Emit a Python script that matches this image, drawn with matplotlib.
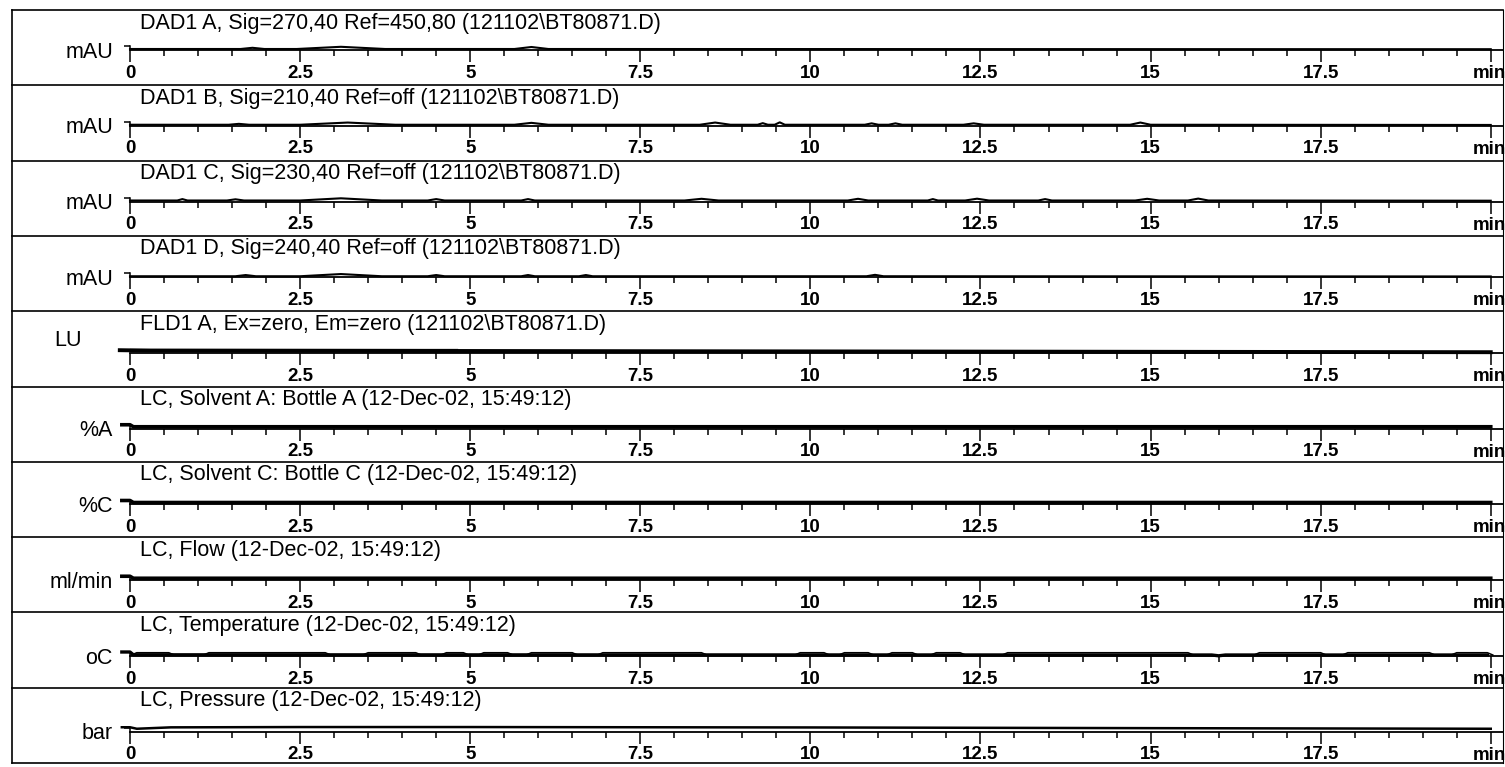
import numpy as np
import matplotlib.pyplot as plt
from matplotlib.ticker import MultipleLocator

plt.rcParams['font.family'] = ['Liberation Sans', 'DejaVu Sans']

W, H = 1505, 767

# ---- chart content -------------------------------------------------------
titles = [
    'DAD1 A, Sig=270,40 Ref=450,80 (121102\\BT80871.D)',
    'DAD1 B, Sig=210,40 Ref=off (121102\\BT80871.D)',
    'DAD1 C, Sig=230,40 Ref=off (121102\\BT80871.D)',
    'DAD1 D, Sig=240,40 Ref=off (121102\\BT80871.D)',
    'FLD1 A, Ex=zero, Em=zero (121102\\BT80871.D)',
    'LC, Solvent A: Bottle A (12-Dec-02, 15:49:12)',
    'LC, Solvent C: Bottle C (12-Dec-02, 15:49:12)',
    'LC, Flow (12-Dec-02, 15:49:12)',
    'LC, Temperature (12-Dec-02, 15:49:12)',
    'LC, Pressure (12-Dec-02, 15:49:12)',
]
units = ['mAU', 'mAU', 'mAU', 'mAU', 'LU', '%A', '%C', 'ml/min', 'oC', 'bar']
major_ticks = [0, 2.5, 5, 7.5, 10, 12.5, 15, 17.5, 20]
tick_labels = ['0', '2.5', '5', '7.5', '10', '12.5', '15', '17.5', '']
x_max = 20.18

# DAD signals: small peaks on a flat baseline (time, width, height)
dad_a_peak_t = [1.8, 3.1, 5.9]
dad_a_peak_w = [0.35, 1.3, 0.5]
dad_a_peak_h = [1.2, 2.2, 2.0]

dad_b_peak_t = [1.6, 3.2, 5.9, 8.6, 9.3, 9.55, 10.9, 11.25, 12.4, 14.85]
dad_b_peak_w = [0.3, 1.4, 0.5, 0.45, 0.15, 0.15, 0.2, 0.2, 0.3, 0.3]
dad_b_peak_h = [0.9, 2.2, 1.9, 2.2, 1.6, 2.4, 1.4, 1.4, 1.4, 2.2]

dad_c_peak_t = [0.77, 1.55, 3.1, 4.5, 5.85, 8.4, 10.7, 11.8, 12.45, 13.45, 14.95, 15.7]
dad_c_peak_w = [0.15, 0.25, 1.2, 0.25, 0.2, 0.5, 0.3, 0.15, 0.35, 0.2, 0.35, 0.3]
dad_c_peak_h = [1.4, 1.2, 2.2, 1.4, 1.4, 1.7, 1.7, 1.4, 1.8, 1.4, 1.7, 1.9]

dad_d_peak_t = [1.7, 3.1, 4.5, 5.85, 6.7, 10.95]
dad_d_peak_w = [0.3, 1.2, 0.25, 0.2, 0.2, 0.25]
dad_d_peak_h = [1.2, 2.2, 1.2, 1.2, 1.2, 1.4]

fld_t = [-0.15, 0.3, 2.5, 5.0, 7.5, 10.0, 15.0, 20.0]
fld_y = [2.8, 2.4, 2.2, 2.0, 1.8, 1.6, 1.2, 0.8]

solvent_a_t = [-0.12, 0.0, 0.05, 20.0]
solvent_a_y = [4.0, 4.0, 2.0, 2.0]
solvent_c_t = [-0.12, 0.0, 0.05, 20.0]
solvent_c_y = [4.0, 4.0, 2.0, 2.0]
flow_t = [-0.12, 0.0, 0.05, 20.0]
flow_y = [4.0, 4.0, 2.0, 2.0]

# temperature: plateaus where the noise band opens up (start, end)
temp_band_start = [0.1, 1.16, 3.5, 4.65, 5.2, 5.9, 6.95, 9.85, 10.5, 11.2, 11.85, 12.9, 16.6, 17.9, 19.5]
temp_band_end = [0.57, 2.87, 4.2, 4.9, 5.55, 6.5, 8.4, 10.2, 10.85, 11.5, 12.2, 15.55, 17.5, 19.1, 19.95]
temp_base_t = [-0.12, 0.0, 0.05, 15.9, 16.0, 16.1, 19.95]
temp_base_y = [4.0, 4.0, 1.2, 1.0, 0.2, 1.0, 1.0]

pressure_t = [-0.12, 0.0, 0.1, 0.6, 2.5, 5.0, 10.0, 15.0, 20.0]
pressure_y = [4.5, 4.5, 3.0, 4.4, 4.7, 4.7, 4.3, 3.6, 3.0]


def peak_trace(times, widths, heights, base=1.0):
    xs, ys = [0.0], [base]
    for c, w, h in zip(times, widths, heights):
        xs += [c - w / 2, c, c + w / 2]
        ys += [base, base + h, base]
    xs.append(20.0)
    ys.append(base * 0.8)
    return xs, ys


fig = plt.figure(figsize=(W / 100, H / 100), dpi=100)

# overlay in pixel coords for frame and text
ax0 = fig.add_axes([0, 0, 1, 1])
ax0.set_xlim(0, W)
ax0.set_ylim(H, 0)
ax0.axis('off')

left, right = 12, 1503
x0_px = 130
panel_h = 75.3
top0 = 10

for i in range(11):
    y = top0 + panel_h * i
    ax0.plot([left, right], [y, y], color='black', lw=1.2)
ax0.plot([left, left], [top0, top0 + panel_h * 10], color='black', lw=1.2)
ax0.plot([right, right], [top0, top0 + panel_h * 10], color='black', lw=0.8)

traces = [
    [peak_trace(dad_a_peak_t, dad_a_peak_w, dad_a_peak_h)],
    [peak_trace(dad_b_peak_t, dad_b_peak_w, dad_b_peak_h)],
    [peak_trace(dad_c_peak_t, dad_c_peak_w, dad_c_peak_h)],
    [peak_trace(dad_d_peak_t, dad_d_peak_w, dad_d_peak_h)],
    [(fld_t, fld_y)],
    [(solvent_a_t, solvent_a_y)],
    [(solvent_c_t, solvent_c_y)],
    [(flow_t, flow_y)],
    [(temp_base_t, temp_base_y)],
    [(pressure_t, pressure_y)],
]
trace_lw = [1.5, 1.5, 1.5, 1.5, 2.8, 2.6, 2.6, 2.6, 2.4, 1.8]

for i in range(10):
    top = top0 + panel_h * i
    axis_y = top + 40 + 0.45 * i

    ax0.text(140, top + 18.5, titles[i], fontsize=15.5, ha='left', va='baseline')
    if units[i] == 'LU':
        ax0.text(82, axis_y - 12, units[i], fontsize=15.5, ha='right', va='center')
    else:
        ax0.text(113, axis_y + 2, units[i], fontsize=15.5, ha='right', va='center')
    ax0.text(1506, axis_y + 15, 'min', fontsize=13.5, fontweight='bold',
             ha='right', va='top')

    ax = fig.add_axes([x0_px / W, 1 - axis_y / H, (right - x0_px) / W, 4 / H])
    ax.patch.set_visible(False)
    ax.set_xlim(0, x_max)
    ax.set_ylim(0, 4)
    for s in ['top', 'right']:
        ax.spines[s].set_visible(False)
    ax.spines['bottom'].set_linewidth(1.3)
    ax.spines['left'].set_linewidth(1.1)
    ax.set_xticks(major_ticks)
    ax.set_xticklabels(tick_labels, fontsize=13.5, fontweight='bold')
    ax.xaxis.set_minor_locator(MultipleLocator(0.5))
    ax.tick_params(axis='x', which='major', direction='out', length=8.6, width=1.1, pad=2.0)
    ax.tick_params(axis='x', which='minor', direction='out', length=4.0, width=1.1)
    if units[i] == 'LU':
        ax.spines['left'].set_visible(False)
        ax.set_yticks([])
    else:
        ax.set_yticks([4])
        ax.set_yticklabels([''])
        ax.tick_params(axis='y', direction='out', length=4.5, width=1.1)

    for xs, ys in traces[i]:
        ax.plot(xs, ys, color='black', lw=trace_lw[i], clip_on=False,
                solid_joinstyle='round')

    if units[i] == 'oC':
        for a, b in zip(temp_band_start, temp_band_end):
            ax.plot([a - 0.08, a, b, b + 0.08], [1.0, 3.3, 3.3, 1.0],
                    color='black', lw=1.1, clip_on=False)
    if units[i] == 'LU':
        ax.plot([0.0, 4.8], [3.6, 3.6], color='black', lw=0.9, clip_on=False)

fig.savefig('out.png', dpi=100)
